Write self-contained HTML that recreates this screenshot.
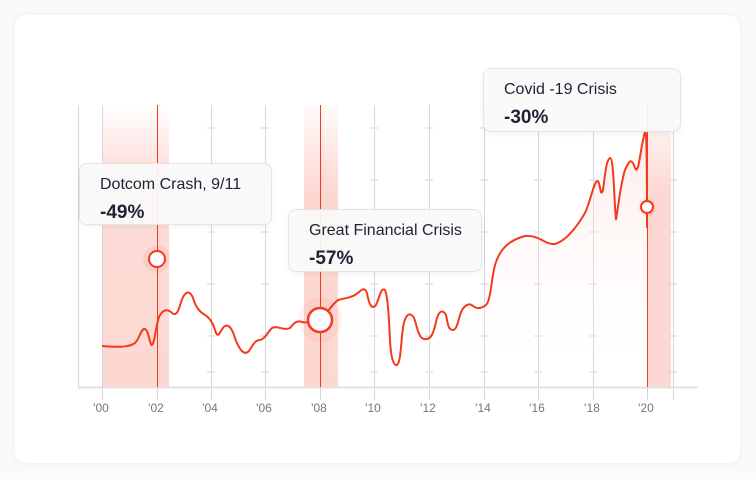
<!DOCTYPE html>
<html><head><style>
html,body{margin:0;padding:0;background:#fafafa;}
body{width:756px;height:479px;position:relative;overflow:hidden;font-family:"Liberation Sans",sans-serif;}
.card{position:absolute;left:15px;top:15px;width:725px;height:448px;background:#fff;border-radius:12px;box-shadow:0 0 8px rgba(0,0,0,0.06);}
.tip{position:absolute;background:rgba(250,250,250,0.93);border:1px solid #e4e4e4;border-radius:8px;box-shadow:0 2px 6px rgba(0,0,0,0.05);color:#222237;}
.tip .t{position:absolute;left:20px;top:12px;font-size:16px;}
.tip .v{position:absolute;left:20px;top:38px;font-size:19px;font-weight:bold;}
</style></head><body>
<div class="card"></div>
<svg width="756" height="479" style="position:absolute;left:0;top:0">
<defs>
<linearGradient id="b1" x1="0" y1="0" x2="0" y2="1"><stop offset="0" stop-color="#fdd8d2" stop-opacity="0"/><stop offset="0.25" stop-color="#fdd8d2" stop-opacity="0.9"/><stop offset="1" stop-color="#fdd8d2"/></linearGradient>
<linearGradient id="b2" x1="0" y1="0" x2="0" y2="1"><stop offset="0" stop-color="#fdd8d2" stop-opacity="0.1"/><stop offset="0.3" stop-color="#fdd8d2"/><stop offset="1" stop-color="#fdd8d2"/></linearGradient>
<linearGradient id="ar" x1="0" y1="0" x2="0" y2="1"><stop offset="0" stop-color="#fdd8d2" stop-opacity="0.5"/><stop offset="1" stop-color="#fff" stop-opacity="0"/></linearGradient>
<g id="tk">
<line x1="-4" y1="128" x2="4" y2="128"/><line x1="-4" y1="180" x2="4" y2="180"/><line x1="-4" y1="232" x2="4" y2="232"/><line x1="-4" y1="284" x2="4" y2="284"/><line x1="-4" y1="336" x2="4" y2="336"/><line x1="-4" y1="372" x2="4" y2="372"/>
</g>
</defs>
<rect x="102" y="105" width="67" height="282" fill="url(#b1)"/>
<rect x="304" y="105" width="34" height="282" fill="url(#b2)"/>
<rect x="647" y="105" width="24" height="282" fill="url(#b2)"/>
<g stroke="#d6d6d6" stroke-width="1">
<line x1="78.5" y1="105" x2="78.5" y2="387"/>
<line x1="102.5" y1="105" x2="102.5" y2="400"/>
<line x1="211.5" y1="105" x2="211.5" y2="400"/>
<line x1="265.5" y1="105" x2="265.5" y2="400"/>
<line x1="374.5" y1="105" x2="374.5" y2="400"/>
<line x1="429.5" y1="105" x2="429.5" y2="400"/>
<line x1="484.5" y1="105" x2="484.5" y2="400"/>
<line x1="538.5" y1="105" x2="538.5" y2="400"/>
<line x1="593.5" y1="105" x2="593.5" y2="400"/>
<line x1="673.5" y1="105" x2="673.5" y2="400"/>
</g>
<g stroke="#d6d6d6"><use href="#tk" x="211"/><use href="#tk" x="265"/><use href="#tk" x="374"/><use href="#tk" x="429"/><use href="#tk" x="484"/><use href="#tk" x="538"/><use href="#tk" x="593"/><use href="#tk" x="673"/></g>
<line x1="78" y1="387.5" x2="698" y2="387.5" stroke="#e2e2e2" stroke-width="2"/>
<g stroke="#d6d6d6"><line x1="157.5" y1="387" x2="157.5" y2="400"/><line x1="320.5" y1="387" x2="320.5" y2="400"/><line x1="647.5" y1="387" x2="647.5" y2="400"/></g>
<g stroke="#f23a1e" stroke-width="1"><line x1="157.5" y1="105" x2="157.5" y2="387"/><line x1="320.5" y1="105" x2="320.5" y2="387"/><line x1="647.5" y1="105" x2="647.5" y2="387"/></g>
<path d="M330,305 L340,299 L350,298 L360,292 L365,288 L370,305 L374,308 L378,300 L382,289 L386,295 L388,330 L393,365 L398,365 L402,345 L405,320 L410,313 L414,318 L418,335 L425,340 L432,336 L437,318 L441,311 L446,318 L450,330 L455,328 L460,312 L466,303 L472,305 L478,308 L484,306 L490,295 L494,270 L500,252 L510,240 L525,236 L540,238 L550,244 L558,243 L570,234 L585,213 L593,188 L597,179 L600,195 L603,193 L607,165 L611,160 L614,200 L616,222 L620,190 L625,165 L630,158 L634,170 L637,165 L642,140 L646,132 L647,387 L330,387Z" fill="url(#ar)"/>
<path d="M102,346 C115,347 128,348 135,343 C140,338 141,328 145,329 C149,331 150,346 152,345 C155,343 156,322 160,315 C164,309 168,309 172,313 C176,316 178,313 181,302 C184,293 189,288 193,298 C196,308 200,312 205,315 C210,318 213,323 216,333 C219,339 221,328 225,326 C230,324 233,331 236,341 C240,350 244,356 249,351 C253,345 255,340 260,340 C265,339 267,333 272,328 C277,325 283,331 290,328 C294,323 297,320 302,322 C309,324 313,318 320,319 C326,316 331,305 338,300 C345,298 350,298 355,295 C360,292 364,285 367,293 C369,305 372,310 376,305 C380,296 381,287 385,290 C388,297 389,320 390,340 C391,360 394,366 397,365 C401,362 401,340 403,328 C405,314 410,311 414,318 C417,325 418,338 424,339 C430,340 433,336 436,322 C438,312 442,308 446,315 C448,324 448,330 453,330 C458,329 458,318 462,310 C466,304 470,303 473,306 C477,309 481,309 486,305 C491,300 491,280 495,265 C500,248 510,240 525,236 C540,235 545,245 555,244 C565,241 575,230 585,213 C591,200 594,180 598,181 C601,186 600,198 603,190 C605,176 606,160 610,158 C614,158 614,202 616,220 C618,207 621,182 625,170 C629,162 631,156 635,168 C638,174 639,162 642,145 C644,136 645,128 646,135 C647,150 647,180 647,228" fill="none" stroke="#f23a1e" stroke-width="2"/>
<circle cx="157" cy="259" r="14" fill="#f23a1e" fill-opacity="0.07"/>
<circle cx="157" cy="259" r="8" fill="#fff" stroke="#f23a1e" stroke-width="2"/>
<circle cx="320" cy="320" r="22" fill="#f23a1e" fill-opacity="0.06"/>
<circle cx="320" cy="320" r="12" fill="#fff" stroke="#f23a1e" stroke-width="2.5"/>
<circle cx="647" cy="207" r="9" fill="#f23a1e" fill-opacity="0.07"/>
<circle cx="647" cy="207" r="6" fill="#fff" stroke="#f23a1e" stroke-width="2"/>
<g font-family="Liberation Sans,sans-serif" font-size="12" fill="#777" text-anchor="middle">
<text x="101" y="412">'00</text><text x="156" y="412">'02</text><text x="210" y="412">'04</text><text x="264" y="412">'06</text><text x="319" y="412">'08</text><text x="373" y="412">'10</text><text x="428" y="412">'12</text><text x="483" y="412">'14</text><text x="537" y="412">'16</text><text x="592" y="412">'18</text><text x="646" y="412">'20</text>
</g>
</svg>
<div class="tip" style="left:79px;top:163px;width:191px;height:60px"><div class="t">Dotcom Crash, 9/11</div><div class="v">-49%</div></div>
<div class="tip" style="left:288px;top:209px;width:192px;height:61px"><div class="t">Great Financial Crisis</div><div class="v">-57%</div></div>
<div class="tip" style="left:483px;top:68px;width:196px;height:62px"><div class="t">Covid -19 Crisis</div><div class="v">-30%</div></div>
</body></html>
